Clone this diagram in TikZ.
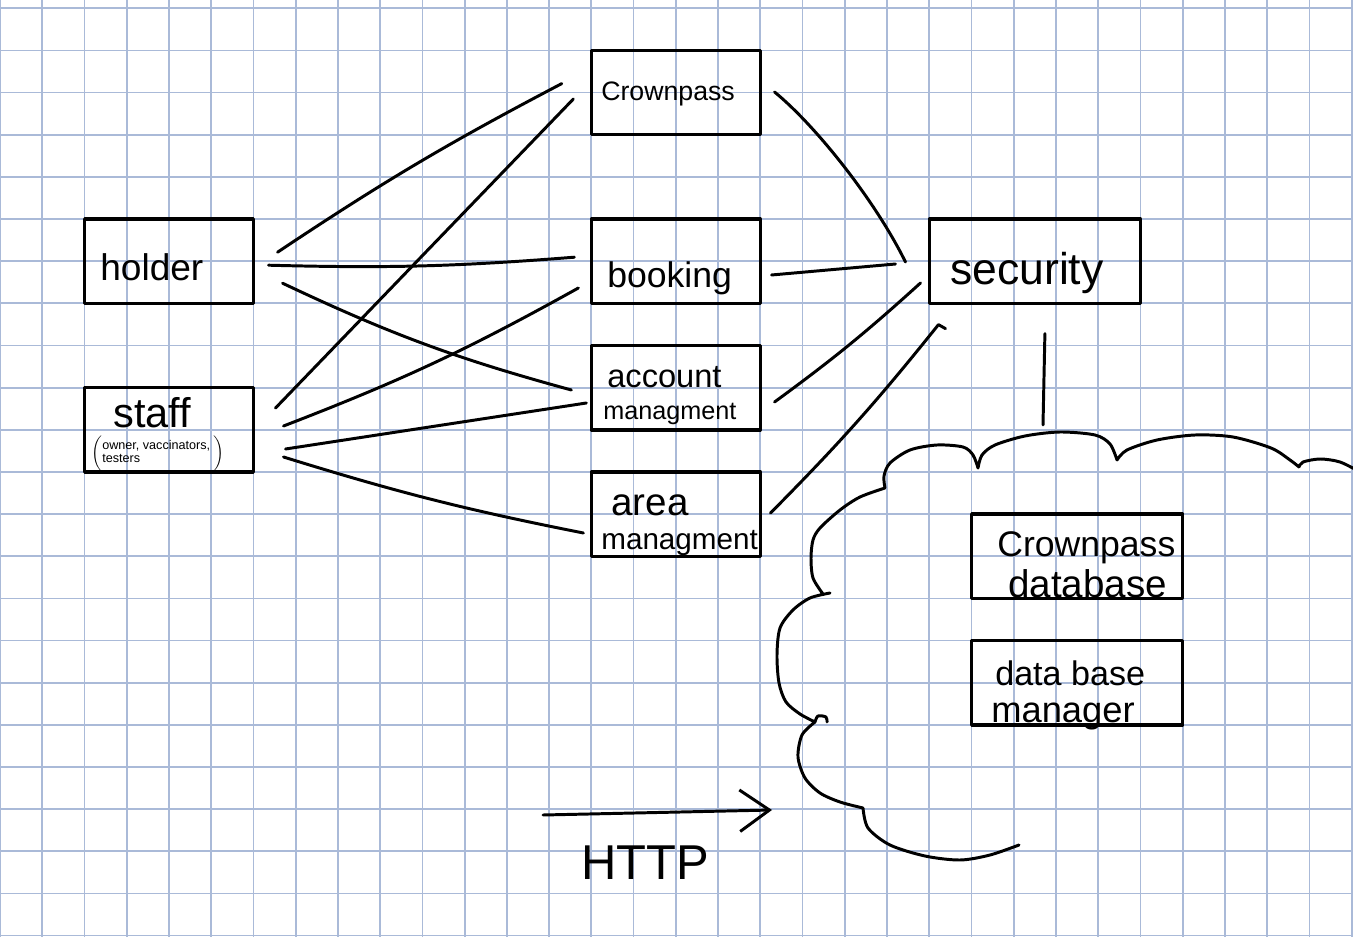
\documentclass[tikz,border=0pt]{standalone}
\usepackage{fontspec}
\setmainfont{Liberation Sans}
\usepackage{tikz}
\usetikzlibrary{arrows.meta}
\definecolor{gridblue}{RGB}{170,186,216}

\begin{document}
\begin{tikzpicture}[x=0.0237cm,y=-0.0237cm,line cap=round,line join=round,
  pen/.style={line width=2pt},
  box/.style={draw,line width=2.2pt,minimum width=4cm,minimum height=2cm,inner sep=0pt},
  wide/.style={box,minimum width=5cm},
  hand/.style={anchor=base west,inner sep=0pt,font=\fontsize{#1}{#1}\selectfont}]
 \useasboundingbox (0,0) rectangle (1353,937);
 \foreach \k in {0,...,32}{\draw[gridblue,line width=1.2pt] (\k*42.24,0)--(\k*42.24,937);}
 \foreach \k in {0,...,22}{\draw[gridblue,line width=1.2pt] (0,8.3+\k*42.15)--(1353,8.3+\k*42.15);}
 \node[box] (holder) at (169,261.2) {};
 \node[box] (staff) at (169,429.8) {};
 \node[box] (crownpass) at (675.8,92.6) {};
 \node[box] (booking) at (675.8,261.2) {};
 \node[box] (account) at (675.8,387.7) {};
 \node[box] (area) at (675.8,514.1) {};
 \node[wide] (security) at (1034.9,261.2) {};
 \node[wide] (cpdb) at (1077.1,556.25) {};
 \node[wide] (dbman) at (1077.1,682.7) {};
 \node[hand=25] (holder-t) at (100,281) {holder};
 \node[hand=28] (staff-t) at (113,428) {staff};
 \node[inner sep=0pt,font=\fontsize{8.5}{9}\selectfont] (staff-n) at (158,453)
   {$\biggl(\begin{tabular}{@{}l@{}}owner, vaccinators,\\testers\end{tabular}\;\biggr)$};
 \node[hand=18] (crownpass-t) at (601,101) {Crownpass};
 \node[hand=24] (booking-t) at (607,288) {booking};
 \node[hand=22] (account-t) at (607,388) {account};
 \node[hand=17] (account-u) at (603,419) {managment};
 \node[hand=26] (area-t) at (611,515) {area};
 \node[hand=20] (area-u) at (601,549) {managment};
 \node[hand=30] (security-t) at (950,285) {security};
 \node[hand=24] (cpdb-t) at (997,556) {Crownpass};
 \node[hand=26] (cpdb-u) at (1008,597) {database};
 \node[hand=23] (dbman-t) at (995,685) {data base};
 \node[hand=24.5] (dbman-u) at (991,722) {manager};
 \draw[pen] ([shift={(22.5,-9)}]holder.east) to[bend left=3] ([shift={(-28,-9)}]crownpass.west);
 \draw[pen] ([shift={(13.5,4)}]holder.east) to[bend right=3] ([shift={(-15.4,-4)}]booking.west);
 \draw[pen] ([shift={(27.5,22)}]holder.east) to[bend right=5] ([shift={(-18.4,2.3)}]account.west);
 \draw[pen] ([shift={(20.5,-21.8)}]staff.east) -- ([shift={(-16.4,6.4)}]crownpass.west);
 \draw[pen] ([shift={(28.5,-3.8)}]staff.east) to[bend right=4] ([shift={(-11.4,26.8)}]booking.west);
 \draw[pen] ([shift={(30.5,19.2)}]staff.east) -- ([shift={(-3.4,15.3)}]account.west);
 \draw[pen] ([shift={(28.5,27.2)}]staff.east) to[bend right=3] ([shift={(-6.4,18.9)}]area.west);
 \draw[pen] ([shift={(12.7,-0.6)}]crownpass.east) .. controls (815,125) and (875,200) .. ([shift={(-22.3,0.8)}]security.west);
 \draw[pen] ([shift={(9.7,13.8)}]booking.east) -- ([shift={(-32.3,2.8)}]security.west);
 \draw[pen] ([shift={(12.7,14.3)}]account.east) to[bend right=3] ([shift={(-7.3,21.8)}]security.west);
 \draw[pen] ([shift={(8.7,-1.1)}]area.east) to[bend right=3] ([shift={(10.7,19.6)}]security.south west) -- ++(7,4);
 \coordinate (cloudtop) at (1043,425);
 \draw[pen] ([shift={(10,28.6)}]security.south) -- (cloudtop);
 \draw[pen] plot[smooth] coordinates {(1019,845) (990,855) (960,860) (925,856) (890,845) (868,828) (863,808)}
   plot[smooth] coordinates {(863,808) (840,802) (820,793) (805,778) (798,757) (802,735) (815,722)}
   plot[smooth] coordinates {(815,722) (818,716) (826,717) (827,722)}
   plot[smooth] coordinates {(815,722) (800,714) (786,702) (779,683) (777,655) (780,628) (793,610) (810,598) (830,593)}
   plot[smooth] coordinates {(823,594) (813,578) (811,558) (813,540) (820,528) (840,510) (860,497) (885,488)}
   plot[smooth] coordinates {(885,488) (884,476) (890,463) (910,450) (937,445) (963,447) (973,455) (978,468)}
   plot[smooth] coordinates {(978,468) (982,455) (995,445) (1025,436) (1060,432) (1095,435) (1110,444) (1117,460)}
   plot[smooth] coordinates {(1117,460) (1127,450) (1157,440) (1195,435) (1233,437) (1271,448) (1290,460) (1299,467)}
   plot[smooth] coordinates {(1299,467) (1303,462) (1320,459) (1340,462) (1360,472)};
 \coordinate (http-a) at (543,815);
 \coordinate (http-b) at (772,810);
 \draw[pen,-{Straight Barb[length=20pt,width=28pt]}] (http-a) -- (http-b);
 \node[anchor=base,inner sep=0pt,font=\fontsize{33}{33}\selectfont] (http-t) at (645,879) {HTTP};
\end{tikzpicture}
\end{document}
